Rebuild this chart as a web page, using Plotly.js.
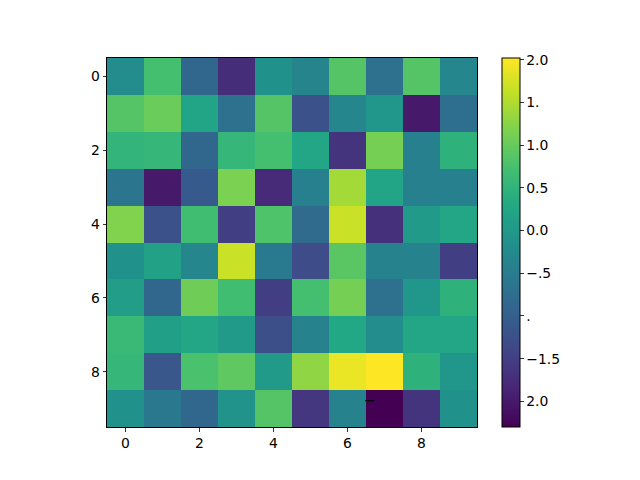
<!DOCTYPE html>
<html>
<head>
<meta charset="utf-8">
<script src="https://cdn.plot.ly/plotly-3.0.1.min.js"></script>
<style>html,body{margin:0;padding:0;background:#fff;}#chart{width:640px;height:480px;}</style>
</head>
<body>
<div id="chart"></div>
<script>
const row0 = [-0.23, 0.72, -0.87, -1.74, -0.14, -0.36, 0.85, -0.70, 0.85, -0.31];
const row1 = [0.85, 1.03, 0.21, -0.70, 0.85, -1.22, -0.31, -0.05, -2.00, -0.74];
const row2 = [0.51, 0.55, -0.87, 0.55, 0.72, 0.25, -1.65, 1.11, -0.44, 0.46];
const row3 = [-0.62, -2.00, -1.09, 1.16, -1.78, -0.44, 1.42, 0.21, -0.44, -0.44];
const row4 = [1.20, -1.22, 0.68, -1.52, 0.81, -0.79, 1.67, -1.70, 0.03, 0.25];
const row5 = [-0.14, 0.16, -0.31, 1.67, -0.53, -1.31, 0.90, -0.40, -0.40, -1.52];
const row6 = [0.08, -0.87, 1.07, 0.68, -1.52, 0.72, 1.11, -0.70, -0.05, 0.46];
const row7 = [0.59, 0.12, 0.25, 0.03, -1.26, -0.40, 0.29, -0.23, 0.25, 0.25];
const row8 = [0.55, -1.13, 0.77, 0.94, 0.03, 1.29, 1.89, 2.02, 0.46, -0.05];
const row9 = [-0.14, -0.57, -0.87, -0.10, 0.85, -1.61, -0.40, -2.30, -1.65, -0.14];
const zRows = [row0, row1, row2, row3, row4, row5, row6, row7, row8, row9];
const xIdx = [0,1,2,3,4,5,6,7,8,9];
const yIdx = [0,1,2,3,4,5,6,7,8,9];
const axisTicks = [0, 2, 4, 6, 8];
const cbTickVals = [2, 1.5, 1, 0.5, 0, -0.5, -1, -1.5, -2];
const cbTickText = ["2.0", "1.", "1.0", "0.5", "0.0", "\u2212.5", ".", "\u22121.5", "2.0"];
const strayText = "\u2212";
const strayPos = [6.61, 8.77];

const viridis = [
  [0.0, '#440154'], [0.1, '#482475'], [0.2, '#414487'], [0.3, '#355f8d'],
  [0.4, '#2a788e'], [0.5, '#21918c'], [0.6, '#22a884'], [0.7, '#44bf70'],
  [0.8, '#7ad151'], [0.9, '#bddf26'], [1.0, '#fde725']
];

const font = {family: 'DejaVu Sans', size: 13.9, color: '#000'};

const trace = {
  type: 'heatmap',
  z: zRows, x: xIdx, y: yIdx,
  colorscale: viridis,
  zmin: -2.30, zmax: 2.02,
  hoverinfo: 'skip',
  colorbar: {
    x: 1.0676, xanchor: 'left', xpad: 0,
    y: 0.5, yanchor: 'middle', ypad: 0,
    len: 1, lenmode: 'fraction',
    thickness: 18, thicknessmode: 'pixels',
    outlinewidth: 1, outlinecolor: '#000',
    tickmode: 'array', tickvals: cbTickVals, ticktext: cbTickText,
    ticks: 'outside', ticklen: 3.5, tickwidth: 0.8, tickcolor: '#000',
    tickfont: font
  }
};

const layout = {
  width: 640, height: 480,
  margin: {l: 107, r: 163, t: 58, b: 53},
  paper_bgcolor: '#fff', plot_bgcolor: '#fff',
  showlegend: false,
  xaxis: {
    range: [-0.5, 9.5], tickmode: 'array', tickvals: axisTicks,
    ticks: 'outside', ticklen: 3.5, tickwidth: 0.8, tickcolor: '#000',
    showgrid: false, zeroline: false, showline: true, linecolor: '#000', linewidth: 1, mirror: true,
    tickfont: font, constrain: 'domain'
  },
  yaxis: {
    range: [9.5, -0.5], tickmode: 'array', tickvals: axisTicks,
    ticks: 'outside', ticklen: 3.5, tickwidth: 0.8, tickcolor: '#000',
    showgrid: false, zeroline: false, showline: true, linecolor: '#000', linewidth: 1, mirror: true,
    tickfont: font
  },
  annotations: [{
    x: strayPos[0], y: strayPos[1], xref: 'x', yref: 'y',
    text: strayText, showarrow: false, font: font
  }]
};

Plotly.newPlot('chart', [trace], layout, {displayModeBar: false, staticPlot: true});
</script>
</body>
</html>
